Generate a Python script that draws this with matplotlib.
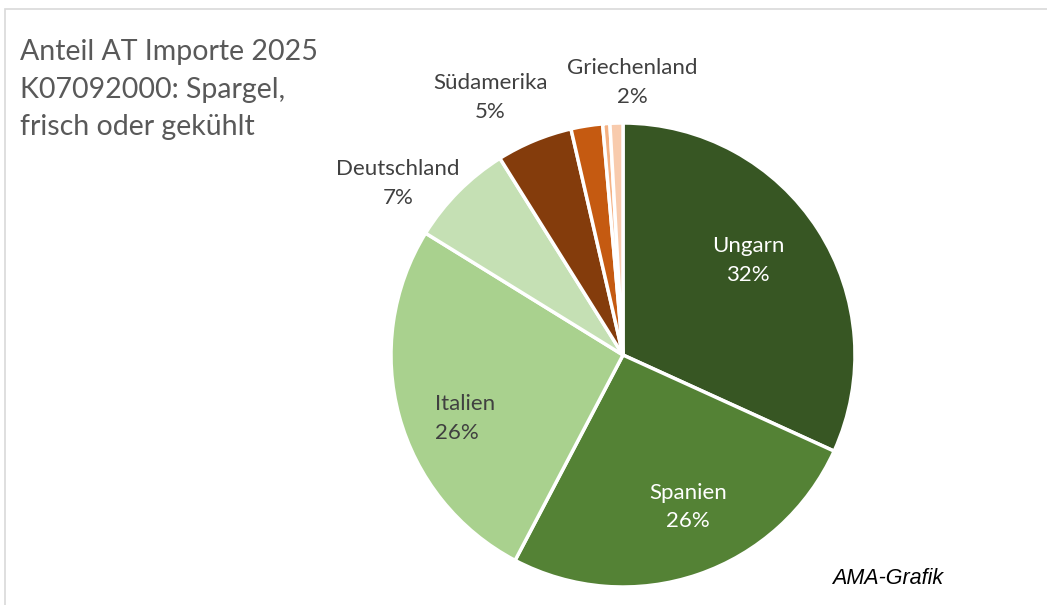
import matplotlib
matplotlib.use("Agg")
import matplotlib.pyplot as plt
from matplotlib.patches import Rectangle

# Anteile AT Importe 2025, Spargel (in %)
countries = ["Ungarn", "Spanien", "Italien", "Deutschland", "Südamerika",
             "Griechenland", "Sonstige 1", "Sonstige 2"]
shares = [31.8, 25.9, 26.1, 7.3, 5.3, 2.2, 0.5, 0.9]
shown = [True, True, True, True, True, True, False, False]

colors = ["#375623", "#548235", "#A9D18E", "#C5E0B4", "#843C0C",
          "#C55A11", "#F4B183", "#F8CBAD"]
label_colors = ["white", "white", "#404040", "#404040", "#404040",
                "#404040", "#404040", "#404040"]
# label positions in pie units (radius = 1), like the manually placed Excel labels
label_pos = [(0.54, 0.409), (0.28, -0.655), (-0.68, -0.272), (-0.97, 0.739),
             (-0.573, 1.11), (0.04, 1.176), None, None]
label_align = ["center", "center", "left", "center", "center", "center", None, None]

plt.rcParams["font.family"] = ["Lato", "DejaVu Sans"]

W, H = 1047, 605
fig = plt.figure(figsize=(W / 100, H / 100), dpi=100)

# light frame of the chart area
fig.patches.append(Rectangle((5 / W, -0.01), 1.02, 1 - 9 / H + 0.01,
                             transform=fig.transFigure, fill=False,
                             edgecolor="#D9D9D9", linewidth=1.2))

cx, cy, r = 623, 355, 232
ax = fig.add_axes([(cx - r) / W, (H - cy - r) / H, 2 * r / W, 2 * r / H])
wedges, _ = ax.pie(shares, colors=colors, startangle=90, counterclock=False,
                   radius=1, wedgeprops=dict(edgecolor="white", linewidth=2.5))
ax.set_xlim(-1, 1)
ax.set_ylim(-1, 1)
ax.set_aspect("equal")
ax.axis("off")

for name, val, show, col, pos, al in zip(countries, shares, shown, label_colors,
                                         label_pos, label_align):
    if not show:
        continue
    ax.text(pos[0], pos[1], f"{name}\n{round(val):.0f}%", ha="center", va="center",
            multialignment=al, fontsize=16, color=col, linespacing=1.55)

fig.text(20 / W, 1 - 39 / H, "Anteil AT Importe 2025\nK07092000: Spargel,\nfrisch oder gekühlt",
         ha="left", va="top", fontsize=20.5, color="#595959", linespacing=1.55)
fig.text(832 / W, 1 - 578 / H, "AMA-Grafik", ha="left", va="center",
         fontsize=15.5, style="italic", family="Liberation Sans", color="black")

fig.savefig("out.png", dpi=100)
